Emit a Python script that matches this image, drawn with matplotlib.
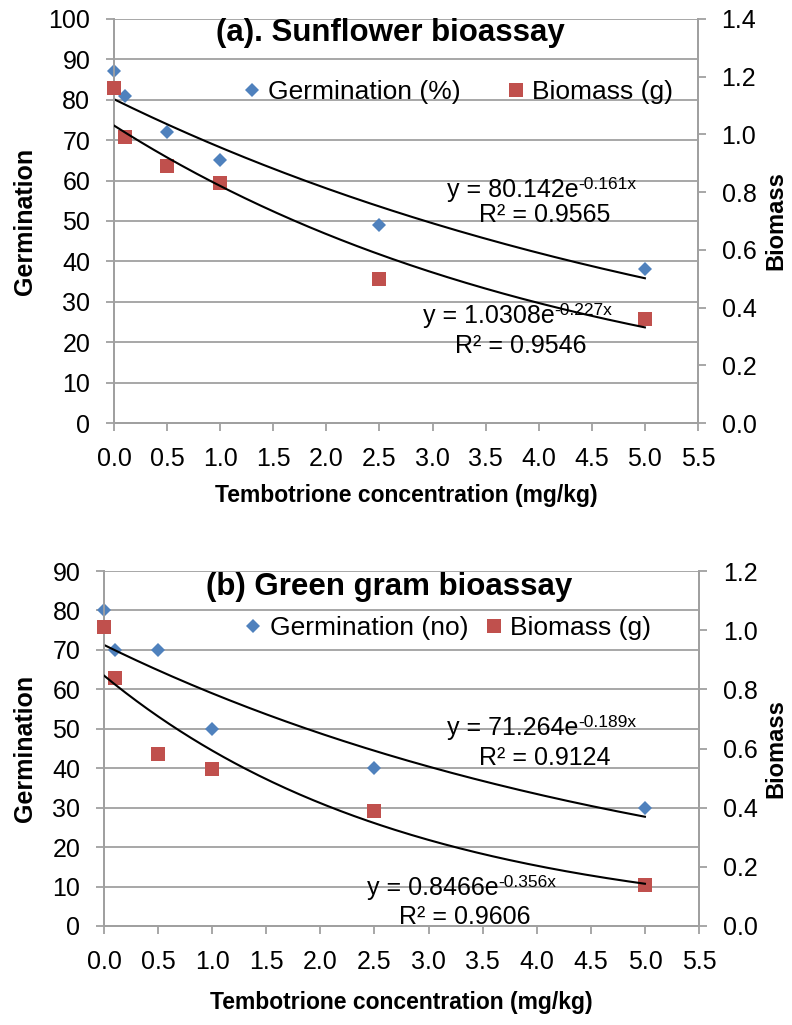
import numpy as np
import matplotlib
matplotlib.use("Agg")
import matplotlib.pyplot as plt

plt.rcParams['font.family'] = ['Liberation Sans', 'DejaVu Sans']

# data
conc = [0, 0.1, 0.5, 1.0, 2.5, 5.0]

germ_a = [87, 81, 72, 65, 49, 38]
bio_a = [1.16, 0.99, 0.89, 0.83, 0.50, 0.36]
germ_b = [80, 70, 70, 50, 40, 30]
bio_b = [1.01, 0.84, 0.58, 0.53, 0.39, 0.14]

# exponential trendlines  y = a * exp(b x), with R^2
fit_germ_a = (80.142, -0.161, 0.9565)
fit_bio_a = (1.0308, -0.227, 0.9546)
fit_germ_b = (71.264, -0.189, 0.9124)
fit_bio_b = (0.8466, -0.356, 0.9606)

xticks = np.arange(0, 5.51, 0.5)

blue = '#4F81BD'
red = '#C0504D'
grey = '#A0A0A0'


def style_axes(ax, ax2):
    for a in (ax, ax2):
        for s in a.spines.values():
            s.set_color(grey)
            s.set_linewidth(1.3)
        a.spines['top'].set_visible(False)
        a.tick_params(colors=grey, labelcolor='black', labelsize=18,
                      length=6, width=1.3, pad=11, direction='out')
    ax.grid(axis='y', color=grey, linewidth=1.3)
    ax.set_axisbelow(True)
    ax.set_xlim(0, 5.5)
    ax.set_xticks(xticks)
    ax.set_xticklabels([f'{v:.1f}' for v in xticks])


def fit_text(ax, fit, x_eq, y_eq, x_r2, y_r2):
    a, b, r2 = fit
    t = ax.text(x_eq, y_eq, f'y = {a}e', transform=ax.transAxes,
                ha='left', va='baseline', fontsize=18)
    ax.annotate(f'{b}x', xy=(1.0, 0.55), xycoords=t, ha='left',
                va='baseline', fontsize=12.5)
    ax.text(x_r2, y_r2, f'R² = {r2}', transform=ax.transAxes,
            ha='center', va='baseline', fontsize=18)


def panel(rect, germ, bio, fit_g, fit_b, ymax, ymax2, title, germ_lab,
          title_xy, leg_xy, colsp, ylab_x, ylab2_x, xlab_y, eq_pos):
    ax = fig.add_axes(rect)
    ax2 = ax.twinx()
    style_axes(ax, ax2)
    ax.set_ylim(0, ymax)
    ax.set_yticks(np.arange(0, ymax + 1, 10))
    ax2.set_ylim(0, ymax2)
    t2 = np.arange(0, ymax2 + 0.01, 0.2)
    ax2.set_yticks(t2)
    ax2.set_yticklabels([f'{v:.1f}' for v in t2])

    h1, = ax.plot(conc, germ, 'D', color=blue, ms=7.2, mew=0, clip_on=False,
                  zorder=3, label=germ_lab)
    h2, = ax2.plot(conc, bio, 's', color=red, ms=10, mew=0, clip_on=False,
                   zorder=3, label='Biomass (g)')

    xs = np.linspace(0, 5, 200)
    ax.plot(xs, fit_g[0] * np.exp(fit_g[1] * xs), color='black', lw=1.5, zorder=4)
    ax2.plot(xs, fit_b[0] * np.exp(fit_b[1] * xs), color='black', lw=1.5, zorder=4)

    ax.text(title_xy[0], title_xy[1], title, transform=ax.transAxes,
            ha='center', va='center', fontsize=22.5, fontweight='bold')
    ax2.legend([h1, h2], [germ_lab, 'Biomass (g)'], loc='center left',
               bbox_to_anchor=leg_xy, ncol=2, frameon=False, fontsize=19,
               handlelength=0.75, handletextpad=0.25, columnspacing=colsp,
               borderpad=0, borderaxespad=0)

    ax.set_ylabel('Germination', fontsize=18, fontweight='bold')
    ax.yaxis.set_label_coords(ylab_x, 0.5)
    ax2.set_ylabel('Biomass', fontsize=17, fontweight='bold')
    ax2.yaxis.set_label_coords(ylab2_x, 0.5)
    ax.set_xlabel('Tembotrione concentration (mg/kg)', fontsize=16.5,
                  fontweight='bold')
    ax.xaxis.set_label_coords(0.5, xlab_y)

    fit_text(ax, fit_g, *eq_pos[0])
    fit_text(ax, fit_b, *eq_pos[1])


fig = plt.figure(figsize=(7.92, 10.25), dpi=100)

panel([0.1439, 0.5873, 0.7374, 0.3942], germ_a, bio_a, fit_germ_a, fit_bio_a,
      100, 1.4, '(a). Sunflower bioassay', 'Germination (%)',
      (0.474, 0.965), (0.219, 0.819), 1.7, -0.132, 1.113, -0.152,
      [(0.570, 0.559, 0.738, 0.498), (0.529, 0.248, 0.697, 0.173)])

panel([0.1313, 0.0966, 0.7513, 0.3463], germ_b, bio_b, fit_germ_b, fit_bio_b,
      90, 1.2, '(b) Green gram bioassay', 'Germination (no)',
      (0.48, 0.955), (0.234, 0.839), 0.6, -0.113, 1.109, -0.182,
      [(0.576, 0.538, 0.741, 0.454), (0.442, 0.087, 0.607, 0.005)])

fig.savefig('out.png', dpi=100)
